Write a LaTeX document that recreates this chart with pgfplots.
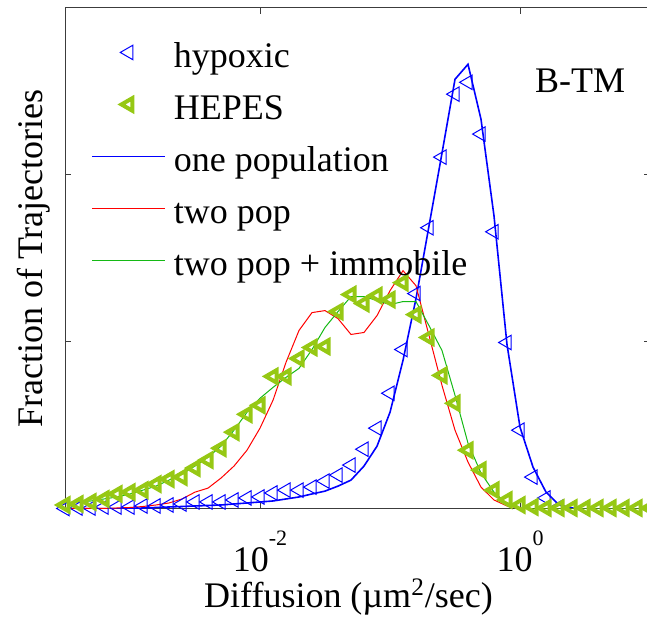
\documentclass[border=0pt]{standalone}
\usepackage{pgfplots}
\pgfplotsset{compat=1.18}
\usepackage{pgfplotstable}
\usepackage{fontspec}
\setmainfont{Liberation Serif}

\definecolor{hypblue}{RGB}{0,0,255}
\definecolor{hepesgreen}{RGB}{150,200,20}
\definecolor{fitred}{RGB}{255,0,0}
\definecolor{fitgreen}{RGB}{20,185,20}
\definecolor{axisgray}{RGB}{60,60,60}

% histogram of log10(D): measured fractions and fitted curves
\pgfplotstableread{
lgD   hyp    hepes  one    two    imm
-3.5  0.0003 0.0024 0.0002 0.0003 0.0036
-3.4  0.0006 0.0030 0.0002 0.0003 0.0042
-3.3  0.0006 0.0042 0.0002 0.0003 0.0048
-3.2  0.0012 0.0060 0.0002 0.0003 0.0060
-3.1  0.0012 0.0090 0.0002 0.0006 0.0072
-3.0  0.0012 0.0101 0.0003 0.0009 0.0090
-2.9  0.0018 0.0113 0.0006 0.0015 0.0113
-2.8  0.0018 0.0149 0.0009 0.0024 0.0137
-2.7  0.0024 0.0179 0.0012 0.0036 0.0173
-2.6  0.0030 0.0191 0.0015 0.0060 0.0209
-2.5  0.0042 0.0245 0.0018 0.0101 0.0257
-2.4  0.0042 0.0293 0.0021 0.0125 0.0310
-2.3  0.0042 0.0364 0.0024 0.0185 0.0376
-2.2  0.0054 0.0460 0.0030 0.0257 0.0472
-2.1  0.0066 0.0567 0.0036 0.0352 0.0579
-2.0  0.0072 0.0621 0.0042 0.0484 0.0663
-1.9  0.0096 0.0794 0.0048 0.0651 0.0728
-1.8  0.0113 0.0794 0.0060 0.0878 0.0788
-1.7  0.0113 0.0901 0.0072 0.1069 0.0842
-1.6  0.0131 0.0967 0.0090 0.1176 0.0955
-1.5  0.0167 0.0973 0.0107 0.1188 0.1087
-1.4  0.0203 0.1182 0.0137 0.1140 0.1182
-1.3  0.0263 0.1284 0.0173 0.1045 0.1272
-1.2  0.0358 0.1230 0.0257 0.1057 0.1272
-1.1  0.0484 0.1278 0.0376 0.1158 0.1248
-1.0  0.0693 0.1254 0.0579 0.1307 0.1224
-0.9  0.0955 0.1355 0.0890 0.1427 0.1242
-0.8  0.1290 0.1164 0.1260 0.1337 0.1242
-0.7  0.1684 0.1027 0.1695 0.1039 0.1098
-0.6  0.2107 0.0800 0.2131 0.0740 0.0949
-0.5  0.2484 0.0633 0.2573 0.0472 0.0681
-0.4  0.2555 0.0352 0.2663 0.0281 0.0394
-0.3  0.2245 0.0233 0.2334 0.0131 0.0215
-0.2  0.1660 0.0113 0.1755 0.0054 0.0101
-0.1  0.0997 0.0054 0.0985 0.0018 0.0030
 0.0  0.0472 0.0024 0.0490 0.0006 0.0006
 0.1  0.0191 0.0012 0.0251 0.0000 0.0000
 0.2  0.0066 0.0006 0.0101 0.0000 0.0000
 0.3  0.0012 0.0006 0.0024 0.0000 0.0000
 0.4  0.0003 0.0006 0.0006 0.0000 0.0000
 0.5  0.0003 0.0006 0.0000 0.0000 0.0000
 0.6  0.0003 0.0006 0.0000 0.0000 0.0000
 0.7  0.0003 0.0006 0.0000 0.0000 0.0000
 0.8  0.0003 0.0006 0.0000 0.0000 0.0000
 0.9  0.0003 0.0006 0.0000 0.0000 0.0000
 1.0  0.0003 0.0006 0.0000 0.0000 0.0000
}\histdata

\newcommand{\pow}[1]{10\raisebox{13.3pt}{\fontsize{11}{11}\selectfont #1}}

\begin{document}
\begin{tikzpicture}[font=\fontsize{18}{21.6}\selectfont]
\begin{axis}[
  scale only axis,
  width=292.5pt, height=250.5pt,
  xmin=-3.5, xmax=1, ymin=0, ymax=0.3,
  xtick={-2,0}, xticklabels={\pow{-2},\pow{0}},
  ytick={0,0.1,0.2,0.3}, yticklabels={},
  tick align=inside, major tick length=3pt,
  axis line style={axisgray, line width=0.5pt},
  every tick/.style={axisgray, line width=0.5pt},
  xticklabel style={anchor=base, yshift=-31.5pt},
  xlabel={Diffusion (µm\textsuperscript{2}/sec)},
  xlabel style={at={(axis description cs:0.5,0)}, anchor=base, yshift=-49.5pt, xshift=-4.5pt},
  ylabel={Fraction of Trajectories},
  ylabel style={at={(axis description cs:-0.0393,0.5)}, anchor=base},
  legend style={draw=none, fill=none, at={(rel axis cs:0.0444,0.934)}, anchor=north west,
    inner sep=0pt, row sep=9pt,
    nodes={inner sep=0pt, text height=13pt, text depth=4pt},
    /tikz/every odd column/.style={column sep=4pt}},
  legend cell align=left,
  legend image code/.code={\draw[mark repeat=2,mark phase=2,#1] plot coordinates {(0pt,3pt) (18.25pt,3pt) (36.5pt,3pt)};},
]
\addplot[only marks, mark=triangle, mark size=4.2pt, hypblue, line width=0.5pt, mark options={rotate=90}]
  table[x=lgD, y=hyp] {\histdata};
\addlegendentry{hypoxic}
\addplot[only marks, mark=triangle, mark size=3.6pt, hepesgreen, line width=2pt, mark options={rotate=90}]
  table[x=lgD, y=hepes] {\histdata};
\addlegendentry{HEPES}
\addplot[hypblue, line width=0.8pt] table[x=lgD, y=one] {\histdata};
\addlegendentry{one population}
\addplot[fitred, line width=0.5pt] table[x=lgD, y=two] {\histdata};
\addlegendentry{two pop}
\addplot[fitgreen, line width=0.5pt] table[x=lgD, y=imm] {\histdata};
\addlegendentry{two pop + immobile}
\node[anchor=base west] at (rel axis cs:0.7915,0.832) {B-TM};
\end{axis}
\pgfresetboundingbox
\path[use as bounding box] ([shift={(-32.5pt,-59.5pt)}]current axis.south west)
  rectangle ([shift={(-1.5pt,4pt)}]current axis.north east);
\end{tikzpicture}
\end{document}
